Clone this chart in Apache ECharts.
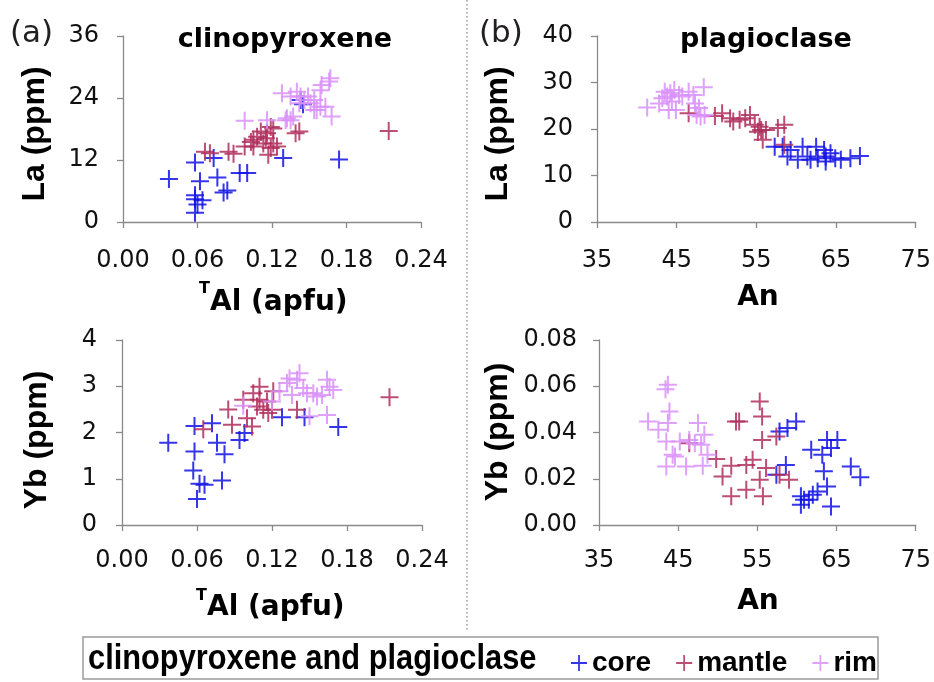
<!DOCTYPE html>
<html><head><meta charset="utf-8">
<script src="https://cdn.jsdelivr.net/npm/echarts@6/dist/echarts.min.js"></script>
<style>html,body{margin:0;padding:0;background:#fff}#c{width:934px;height:682px}</style>
</head><body><div id="c"></div>
<script>
// ---- data ----
const seriesNames = ['core', 'mantle', 'rim'];
// (a) clinopyroxene: [TAl (apfu), La (ppm)]
const laCpxCore = [[0.037,8.3],[0.058,11.5],[0.073,12.4],[0.062,7.9],[0.076,8.6],[0.058,5.2],[0.058,4.4],[0.064,4.2],[0.060,3.4],[0.058,1.8],[0.081,5.7],[0.084,6.1],[0.094,9.5],[0.100,9.5],[0.129,12.4],[0.174,12.1],[0.143,23.6],[0.145,22.8]];
const laCpxMantle = [[0.066,13.6],[0.070,13.3],[0.085,13.6],[0.089,13.2],[0.098,14.6],[0.103,15.5],[0.108,16.5],[0.111,17.5],[0.116,17.2],[0.119,18.4],[0.121,18.1],[0.113,15.2],[0.119,14.3],[0.121,15.2],[0.117,13.0],[0.124,14.6],[0.105,15.9],[0.142,17.5],[0.139,17.2],[0.214,17.6],[0.105,14.6],[0.115,16.2]];
const laCpxRim = [[0.098,19.6],[0.116,19.7],[0.128,24.9],[0.132,20.1],[0.135,19.7],[0.137,20.4],[0.140,25.2],[0.143,24.3],[0.146,23.6],[0.149,24.3],[0.151,23.0],[0.154,23.6],[0.156,21.7],[0.159,25.5],[0.160,26.5],[0.166,27.2],[0.167,27.8],[0.168,20.4],[0.163,22.3],[0.159,22.3],[0.154,21.7],[0.142,23.0],[0.135,24.3],[0.131,19.7]];
// (b) plagioclase: [An, La (ppm)]
const laPlCore = [[57.3,16.2],[58.3,16.2],[59.3,15.5],[60.2,13.4],[60.8,16.2],[61.4,14.1],[62.5,16.2],[63.5,15.5],[63.7,14.1],[63.7,13.0],[64.3,14.8],[64.9,13.7],[65.6,13.4],[66.8,13.7],[68.0,14.2],[58.9,14.1],[61.8,13.4],[62.7,13.7]];
const laPlMantle = [[46.5,23.4],[49.8,22.8],[50.7,23.4],[51.7,22.3],[52.1,21.6],[52.9,22.0],[53.6,22.3],[54.2,23.0],[54.8,20.9],[55.4,20.5],[55.6,19.8],[55.2,19.4],[55.8,17.7],[57.7,20.2],[58.5,20.9],[58.5,16.6],[56.2,19.8]];
const laPlRim = [[41.3,24.6],[42.8,25.5],[43.5,28.0],[43.8,27.0],[44.2,27.7],[44.4,25.9],[44.0,24.1],[44.9,24.1],[45.3,27.3],[45.7,27.0],[46.5,28.0],[47.1,27.3],[48.4,29.0],[47.3,25.5],[47.8,24.5],[48.0,22.7],[47.5,23.0],[48.5,23.0],[43.2,26.6],[44.7,28.4]];
// (a) clinopyroxene: [TAl (apfu), Yb (ppm)]
const ybCpxCore = [[0.037,1.78],[0.058,2.14],[0.072,2.20],[0.058,1.59],[0.076,1.78],[0.082,1.53],[0.057,1.18],[0.062,0.89],[0.066,0.87],[0.060,0.56],[0.080,0.96],[0.094,1.84],[0.098,1.99],[0.128,2.33],[0.146,2.33],[0.173,2.12]];
const ybCpxMantle = [[0.065,2.07],[0.085,2.50],[0.088,2.17],[0.097,2.71],[0.100,2.31],[0.104,2.13],[0.105,2.85],[0.110,2.99],[0.108,2.56],[0.113,2.49],[0.117,2.42],[0.120,2.49],[0.121,2.89],[0.116,2.67],[0.140,2.49],[0.214,2.76],[0.110,2.71]];
const ybCpxRim = [[0.097,2.58],[0.120,2.67],[0.126,2.89],[0.132,3.07],[0.134,3.17],[0.140,3.14],[0.142,3.28],[0.145,2.96],[0.148,2.85],[0.153,2.85],[0.156,2.78],[0.160,2.81],[0.164,3.14],[0.166,2.99],[0.169,2.92],[0.150,2.35],[0.164,2.38],[0.136,2.81]];
// (b) plagioclase: [An, Yb (ppm)]
const ybPlCore = [[57.8,0.0404],[58.8,0.0419],[59.9,0.0448],[58.6,0.0260],[57.4,0.0217],[61.8,0.0325],[63.2,0.0304],[63.8,0.0368],[64.3,0.0333],[65.1,0.0368],[63.4,0.0232],[63.8,0.0167],[66.8,0.0253],[68.0,0.0207],[60.5,0.0124],[60.9,0.0109],[60.5,0.0088],[62.0,0.0131],[62.6,0.0145],[64.3,0.0080],[61.5,0.0109]];
const ybPlMantle = [[46.4,0.0354],[49.8,0.0285],[50.6,0.0210],[51.7,0.0256],[51.7,0.0124],[52.3,0.0448],[52.7,0.0448],[53.6,0.0260],[54.4,0.0282],[53.6,0.0152],[55.3,0.0534],[55.6,0.0469],[55.6,0.0368],[55.3,0.0196],[55.7,0.0124],[56.1,0.0246],[57.4,0.0383],[57.8,0.0217],[59.0,0.0196]];
const ybPlRim = [[43.7,0.0606],[43.4,0.0587],[43.9,0.0491],[41.2,0.0448],[42.5,0.0412],[43.7,0.0441],[43.5,0.0361],[44.6,0.0296],[44.3,0.0304],[43.5,0.0253],[46.0,0.0253],[47.5,0.0441],[48.3,0.0390],[47.9,0.0347],[45.2,0.0361],[47.1,0.0354],[48.7,0.0304],[48.1,0.0256],[46.4,0.0368]];
// tick labels
const alTicks = [0, 0.06, 0.12, 0.18, 0.24];
const anTicks = [35, 45, 55, 65, 75];
const laCpxTicks = [0, 12, 24, 36];
const laPlTicks = [0, 10, 20, 30, 40];
const ybCpxTicks = [0, 1, 2, 3, 4];
const ybPlTicks = [0, 0.02, 0.04, 0.06, 0.08];

// ---- styling ----
const colors = ['#1212e6', '#b02e5c', '#d990fa'];
const plus = 'path://M8,0h2v8h8v2h-8v8h-2v-8h-8v-2h8z';
const axisCol = '#8a8a8a';
const tickFont = 'DejaVu Sans';
const boldFont = 'DejaVu Sans';

function ax(grid, ticks, dec, margin) {
  return {
    type: 'value', gridIndex: grid, min: ticks[0], max: ticks[ticks.length - 1],
    axisLine: { show: true, onZero: false, lineStyle: { color: axisCol, width: 1.3 } },
    axisTick: { show: true, length: 6, lineStyle: { color: axisCol, width: 1.3 }, customValues: ticks },
    axisLabel: { fontFamily: tickFont, fontSize: 24, color: '#111', margin: margin,
      customValues: ticks, formatter: v => v.toFixed(dec) },
    splitLine: { show: false }
  };
}

const panels = [
  [laCpxCore, laCpxMantle, laCpxRim],
  [laPlCore, laPlMantle, laPlRim],
  [ybCpxCore, ybCpxMantle, ybCpxRim],
  [ybPlCore, ybPlMantle, ybPlRim]
];
const series = [];
panels.forEach((p, gi) => {
  p.forEach((d, si) => {
    series.push({
      name: seriesNames[si], type: 'scatter', xAxisIndex: gi, yAxisIndex: gi,
      data: d, symbol: plus, symbolSize: 18,
      itemStyle: { color: colors[si], opacity: 0.85 },
      emphasis: { disabled: true }, animation: false
    });
  });
});

function txt(x, y, text, size, weight, align, font, extra, fill) {
  return Object.assign({
    type: 'text', x: x, y: y, silent: true,
    style: { text: text, fontFamily: font || boldFont, fontSize: size, fontWeight: weight,
      fill: fill || '#000', align: align || 'center', verticalAlign: 'middle' }
  }, extra || {});
}
const rot = { rotation: Math.PI / 2 };

const option = {
  animation: false,
  backgroundColor: '#fff',
  grid: [
    { left: 123, top: 36, width: 298, height: 186 },
    { left: 597, top: 36, width: 322, height: 186 },
    { left: 122, top: 340, width: 300, height: 185 },
    { left: 599, top: 340, width: 318, height: 185 }
  ],
  xAxis: [
    ax(0, alTicks, 2, 27),
    ax(1, anTicks, 0, 27),
    ax(2, alTicks, 2, 24),
    ax(3, anTicks, 0, 24)
  ],
  yAxis: [
    ax(0, laCpxTicks, 0, 24),
    ax(1, laPlTicks, 0, 24),
    ax(2, ybCpxTicks, 0, 25),
    ax(3, ybPlTicks, 2, 22)
  ],
  legend: {
    data: seriesNames, left: 566, top: 644, icon: plus,
    itemWidth: 16, itemHeight: 16, itemGap: 25, itemTextGap: 6,
    selectedMode: false,
    textStyle: { fontFamily: 'Liberation Sans', fontWeight: 'bold', fontSize: 28, color: '#000' }
  },
  series: series,
  graphic: [
    { type: 'line', silent: true, shape: { x1: 467, y1: 0, x2: 467, y2: 630 },
      style: { stroke: '#9a9a9a', lineWidth: 1.5, lineDash: [1.5, 2.5] } },
    { type: 'rect', silent: true, shape: { x: 83, y: 637, width: 795, height: 42 },
      style: { fill: 'none', stroke: '#9a9a9a', lineWidth: 1.5 } },
    txt(88, 659, 'clinopyroxene and plagioclase', 35, 'bold', 'left', 'Liberation Sans', { scaleX: 0.88 }),
    txt(10, 34, '(a)', 31, 'normal', 'left', tickFont, {}, '#231f20'),
    txt(479, 34, '(b)', 31, 'normal', 'left', tickFont, {}, '#231f20'),
    txt(285, 40, 'clinopyroxene', 27, 'bold'),
    txt(766, 40, 'plagioclase', 27, 'bold'),
    txt(35, 134, 'La (ppm)', 32, 'bold', 'center', 'Liberation Sans', rot),
    txt(498, 134, 'La (ppm)', 32, 'bold', 'center', 'Liberation Sans', rot),
    txt(37, 440, 'Yb (ppm)', 32, 'bold', 'center', 'Liberation Sans', rot),
    txt(498, 432, 'Yb (ppm)', 32, 'bold', 'center', 'Liberation Sans', rot),
    txt(210, 289, 'T', 16, 'bold', 'right'),
    txt(210, 303, 'Al (apfu)', 28, 'bold', 'left'),
    txt(207, 596, 'T', 16, 'bold', 'right'),
    txt(207, 608, 'Al (apfu)', 28, 'bold', 'left'),
    txt(758, 298, 'An', 28, 'bold'),
    txt(758, 602, 'An', 28, 'bold')
  ]
};
const chart = echarts.init(document.getElementById('c'), null, { renderer: 'canvas' });
chart.setOption(option);
</script></body></html>
